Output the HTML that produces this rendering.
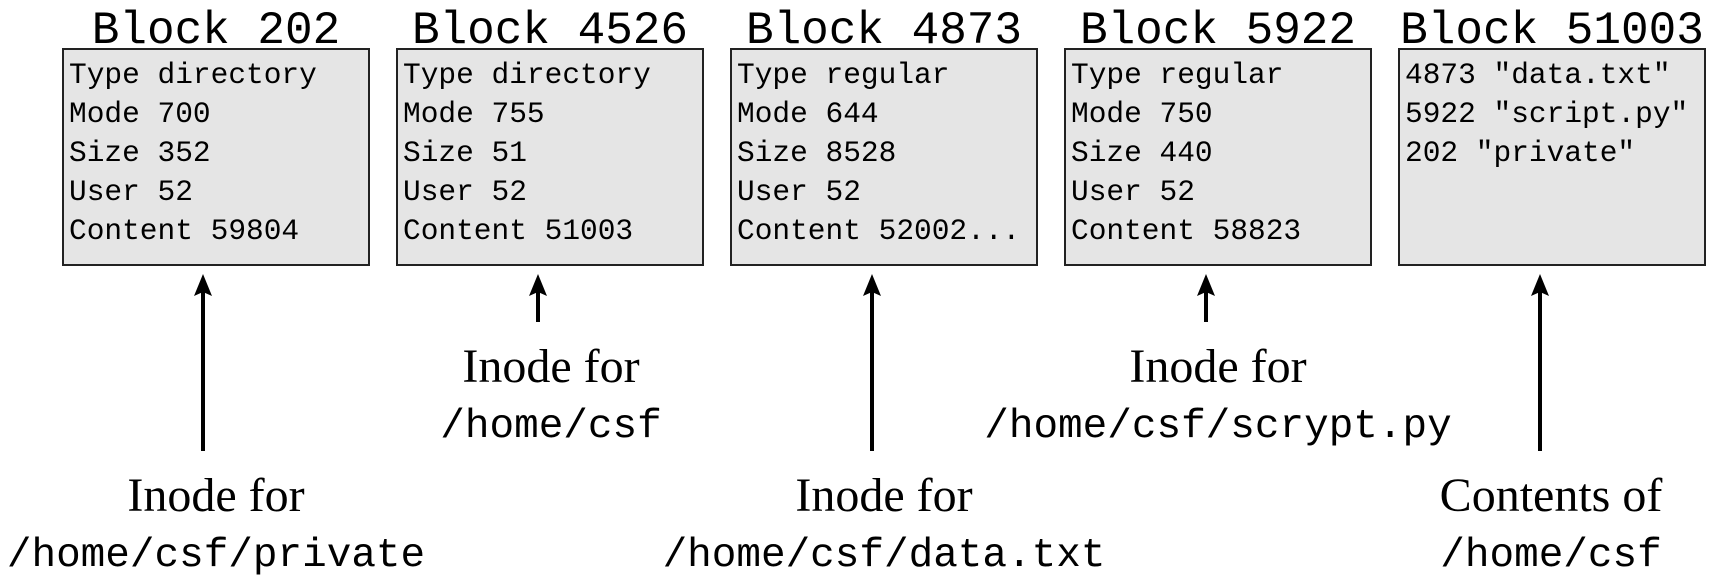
<!DOCTYPE html>
<html><head><meta charset="utf-8"><style>
html,body{margin:0;padding:0;background:#fff;}
svg{display:block;}
.t{font-family:"Liberation Mono",monospace;font-size:46px;fill:#000;}
.b{font-family:"Liberation Mono",monospace;font-size:29.5px;fill:#000;}
.s{font-family:"Liberation Serif",serif;font-size:48px;fill:#000;}
.m{font-family:"Liberation Mono",monospace;font-size:41px;fill:#000;}
</style></head><body>
<svg width="1711" height="578" viewBox="0 0 1711 578" xmlns="http://www.w3.org/2000/svg">
<g stroke="#222" stroke-width="2" fill="#e5e5e5">
<rect x="63" y="49" width="306" height="216"/>
<rect x="397" y="49" width="306" height="216"/>
<rect x="731" y="49" width="306" height="216"/>
<rect x="1065" y="49" width="306" height="216"/>
<rect x="1399" y="49" width="306" height="216"/>
</g>
<g class="t" text-anchor="middle">
<text x="216" y="43">Block 202</text>
<text x="550" y="43">Block 4526</text>
<text x="884" y="43">Block 4873</text>
<text x="1218" y="43">Block 5922</text>
<text x="1552" y="43">Block 51003</text>
</g>
<g class="b">
<text x="69" y="83">Type directory</text><text x="69" y="122">Mode 700</text><text x="69" y="161">Size 352</text><text x="69" y="200">User 52</text><text x="69" y="239">Content 59804</text>
<text x="403" y="83">Type directory</text><text x="403" y="122">Mode 755</text><text x="403" y="161">Size 51</text><text x="403" y="200">User 52</text><text x="403" y="239">Content 51003</text>
<text x="737" y="83">Type regular</text><text x="737" y="122">Mode 644</text><text x="737" y="161">Size 8528</text><text x="737" y="200">User 52</text><text x="737" y="239">Content 52002...</text>
<text x="1071" y="83">Type regular</text><text x="1071" y="122">Mode 750</text><text x="1071" y="161">Size 440</text><text x="1071" y="200">User 52</text><text x="1071" y="239">Content 58823</text>
<text x="1405" y="83">4873 "data.txt"</text><text x="1405" y="122">5922 "script.py"</text><text x="1405" y="161">202 "private"</text>
</g>
<g stroke="#000" stroke-width="4">
<line x1="203" y1="451" x2="203" y2="290"/>
<line x1="538" y1="322" x2="538" y2="290"/>
<line x1="872" y1="451" x2="872" y2="290"/>
<line x1="1206" y1="322" x2="1206" y2="290"/>
<line x1="1540" y1="451" x2="1540" y2="290"/>
</g>
<g fill="#000">
<path d="M203,274 L212,296 L203,292 L194,296 Z"/>
<path d="M538,274 L547,296 L538,292 L529,296 Z"/>
<path d="M872,274 L881,296 L872,292 L863,296 Z"/>
<path d="M1206,274 L1215,296 L1206,292 L1197,296 Z"/>
<path d="M1540,274 L1549,296 L1540,292 L1531,296 Z"/>
</g>
<g text-anchor="middle">
<text class="s" x="216" y="511">Inode for</text><text class="m" x="216" y="566">/home/csf/private</text>
<text class="s" x="551" y="382">Inode for</text><text class="m" x="551" y="437">/home/csf</text>
<text class="s" x="884" y="511">Inode for</text><text class="m" x="884" y="566">/home/csf/data.txt</text>
<text class="s" x="1218" y="382">Inode for</text><text class="m" x="1218" y="437">/home/csf/scrypt.py</text>
<text class="s" x="1551" y="511">Contents of</text><text class="m" x="1551" y="566">/home/csf</text>
</g>
</svg>
</body></html>
